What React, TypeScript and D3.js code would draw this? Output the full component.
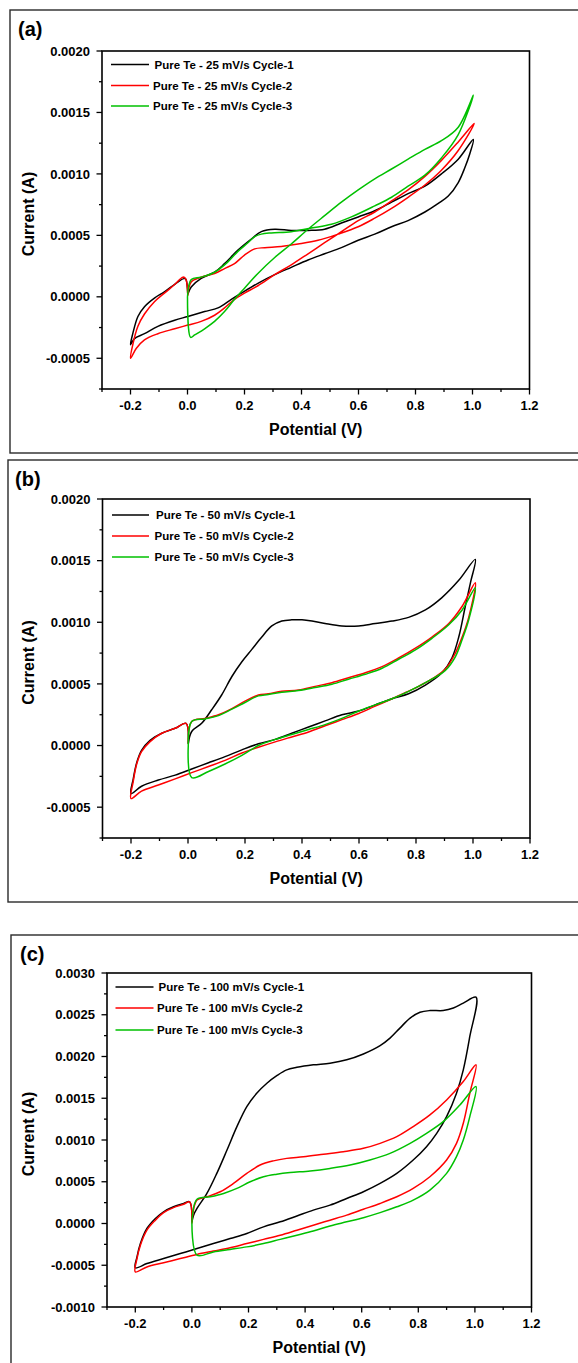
import React from "react";
import * as d3 from "d3";

type Pt = [number, number];

// Cyclic voltammograms of pure Te: [potential (V), current (A)]

// 25 mV/s
const te25Cycle1: Pt[] = [
  [0.001, 0.00002], [0.013, 0.00008], [0.048, 0.00015], [0.095, 0.0002], [0.13, 0.00027], [0.177, 0.00038],
  [0.224, 0.00047], [0.259, 0.00053], [0.306, 0.00055], [0.364, 0.00054], [0.423, 0.00054], [0.481, 0.00055],
  [0.54, 0.0006], [0.599, 0.00065], [0.657, 0.0007], [0.716, 0.00077], [0.774, 0.00084], [0.833, 0.0009],
  [0.891, 0.001], [0.95, 0.00112], [1.003, 0.00128],
  [0.99, 0.00116], [0.973, 0.00105], [0.95, 0.00093], [0.915, 0.00082], [0.88, 0.00076], [0.833, 0.00069],
  [0.774, 0.00062], [0.716, 0.00057], [0.657, 0.00051], [0.599, 0.00046], [0.54, 0.0004], [0.481, 0.00035],
  [0.423, 0.0003], [0.364, 0.00024], [0.306, 0.00018], [0.247, 0.00011], [0.189, 0.00003], [0.154, -0.00002],
  [0.107, -0.00009], [0.06, -0.00012], [0.001, -0.00016], [-0.045, -0.00019], [-0.104, -0.00024],
  [-0.151, -0.0003], [-0.186, -0.00034], [-0.2, -0.00039],
  [-0.192, -0.0003], [-0.174, -0.00016], [-0.151, -0.00008], [-0.116, -0.00001], [-0.081, 0.00004],
  [-0.034, 0.00012], [-0.01, 0.00015], [-0.005, 0.00014], [0.001, 0.00002],
];
const te25Cycle2: Pt[] = [
  [0.001, 0.00001], [0.013, 0.00012], [0.048, 0.00016], [0.095, 0.00019], [0.13, 0.00023], [0.165, 0.00027],
  [0.2, 0.00034], [0.236, 0.00039], [0.271, 0.0004], [0.329, 0.00041], [0.388, 0.00043], [0.458, 0.00046],
  [0.528, 0.00051], [0.599, 0.00057], [0.657, 0.00064], [0.716, 0.00072], [0.774, 0.00081], [0.833, 0.00091],
  [0.891, 0.00103], [0.95, 0.00119], [1.006, 0.00141],
  [0.95, 0.00126], [0.891, 0.00111], [0.833, 0.00098], [0.774, 0.00087], [0.716, 0.00078], [0.657, 0.00069],
  [0.599, 0.00062], [0.54, 0.00053], [0.481, 0.00044], [0.423, 0.00035], [0.364, 0.00026], [0.306, 0.00018],
  [0.247, 0.00009], [0.2, 0.00003], [0.165, -0.00002], [0.13, -0.00009], [0.095, -0.00015], [0.048, -0.0002],
  [0.001, -0.00023], [-0.045, -0.00026], [-0.104, -0.0003], [-0.151, -0.00035], [-0.18, -0.00042], [-0.2, -0.0005],
  [-0.192, -0.00039], [-0.174, -0.00024], [-0.151, -0.00014], [-0.116, -0.00004], [-0.081, 0.00003],
  [-0.045, 0.0001], [-0.016, 0.00016], [-0.007, 0.00015], [0.001, 0.00001],
];
const te25Cycle3: Pt[] = [
  [0.0, 0.0], [0.013, 0.00014], [0.048, 0.00016], [0.095, 0.0002], [0.14, 0.00028], [0.177, 0.00037],
  [0.212, 0.00044], [0.236, 0.00049], [0.259, 0.00051], [0.294, 0.00052], [0.364, 0.00053], [0.435, 0.00056],
  [0.505, 0.00059], [0.575, 0.00065], [0.657, 0.00074], [0.716, 0.00081], [0.774, 0.0009], [0.833, 0.00099],
  [0.891, 0.00113], [0.95, 0.00132], [1.003, 0.00164],
  [0.95, 0.00138], [0.891, 0.00127], [0.833, 0.0012], [0.774, 0.00112], [0.716, 0.00104], [0.657, 0.00096],
  [0.599, 0.00087], [0.54, 0.00077], [0.481, 0.00066], [0.423, 0.00055], [0.364, 0.00043], [0.306, 0.00032],
  [0.247, 0.00019], [0.2, 0.00007], [0.165, -0.00002], [0.13, -0.00012], [0.095, -0.0002], [0.06, -0.00026],
  [0.025, -0.00031], [0.011, -0.00033], [0.0, 0.0],
];

// 50 mV/s
const te50Cycle1: Pt[] = [
  [0.001, 0.000014], [0.013, 0.000114], [0.048, 0.00018], [0.083, 0.00029], [0.118, 0.00041], [0.154, 0.00056],
  [0.189, 0.00068], [0.224, 0.00078], [0.259, 0.00088], [0.294, 0.00097], [0.329, 0.00101], [0.364, 0.00102],
  [0.4, 0.00102], [0.435, 0.00101], [0.481, 0.00099], [0.54, 0.00097], [0.599, 0.00097], [0.657, 0.00099],
  [0.716, 0.00101], [0.774, 0.00104], [0.833, 0.0011], [0.891, 0.0012], [0.95, 0.00134], [1.008, 0.00151],
  [0.991, 0.00132], [0.973, 0.00113], [0.95, 0.00088], [0.926, 0.00071], [0.891, 0.00059], [0.833, 0.00049],
  [0.774, 0.00042], [0.716, 0.00038], [0.657, 0.00033], [0.599, 0.00028], [0.54, 0.00025], [0.481, 0.0002],
  [0.423, 0.00015], [0.364, 0.0001], [0.306, 0.00005], [0.247, 0.000014], [0.189, -0.000035], [0.13, -0.00009],
  [0.072, -0.00014], [0.013, -0.00019], [-0.045, -0.00024], [-0.104, -0.00028], [-0.163, -0.00033], [-0.2, -0.00039],
  [-0.192, -0.00027], [-0.18, -0.00014], [-0.163, -0.00004], [-0.134, 0.00004], [-0.092, 0.0001],
  [-0.045, 0.00014], [-0.007, 0.00018], [0.001, 0.000014],
];
const te50Cycle2: Pt[] = [
  [0.001, 0.000014], [0.013, 0.000195], [0.06, 0.00022], [0.107, 0.00025], [0.154, 0.0003], [0.2, 0.00036],
  [0.247, 0.00041], [0.282, 0.00042], [0.329, 0.00044], [0.388, 0.00045], [0.446, 0.00048], [0.505, 0.00051],
  [0.563, 0.00055], [0.622, 0.00059], [0.681, 0.00064], [0.739, 0.00071], [0.798, 0.00079], [0.856, 0.00088],
  [0.915, 0.00099], [0.962, 0.00113], [1.008, 0.00132],
  [0.985, 0.00104], [0.962, 0.00088], [0.938, 0.00075], [0.903, 0.00062], [0.856, 0.00054], [0.809, 0.00048],
  [0.763, 0.00043], [0.716, 0.00038], [0.657, 0.00032], [0.599, 0.00026], [0.54, 0.00021], [0.481, 0.00016],
  [0.423, 0.00011], [0.364, 0.00007], [0.306, 0.00003], [0.247, -0.000014], [0.189, -0.00006], [0.13, -0.00012],
  [0.072, -0.00017], [0.013, -0.00022], [-0.045, -0.00027], [-0.104, -0.00032], [-0.163, -0.00037], [-0.2, -0.00043],
  [-0.192, -0.00029], [-0.18, -0.00015], [-0.163, -0.00005], [-0.134, 0.00003], [-0.092, 0.0001],
  [-0.045, 0.00014], [-0.007, 0.00018], [0.001, 0.000014],
];
const te50Cycle3: Pt[] = [
  [0.001, 0.0], [0.013, 0.000195], [0.06, 0.000216], [0.107, 0.000243], [0.154, 0.000295], [0.2, 0.000349],
  [0.247, 0.000403], [0.282, 0.000414], [0.329, 0.000432], [0.388, 0.000446], [0.446, 0.00047], [0.505, 0.000497],
  [0.563, 0.000538], [0.622, 0.000578], [0.681, 0.000627], [0.739, 0.0007], [0.798, 0.000776], [0.856, 0.00087],
  [0.915, 0.00098], [0.962, 0.0011], [1.008, 0.00128],
  [0.985, 0.00102], [0.962, 0.00086], [0.938, 0.00072], [0.903, 0.00061], [0.833, 0.00051], [0.774, 0.00044],
  [0.716, 0.00038], [0.657, 0.00033], [0.599, 0.00028], [0.54, 0.00022], [0.481, 0.00017], [0.423, 0.00013],
  [0.364, 0.00009], [0.306, 0.00005], [0.247, 0.0], [0.189, -0.00008], [0.13, -0.00015], [0.072, -0.00021],
  [0.013, -0.00026], [0.001, 0.0],
];

// 100 mV/s
const te100Cycle1: Pt[] = [
  [0.0, 0.00002], [0.006, 0.0001], [0.018, 0.00018], [0.053, 0.00036], [0.088, 0.0006], [0.124, 0.00088],
  [0.159, 0.00116], [0.194, 0.0014], [0.229, 0.00156], [0.265, 0.00168], [0.3, 0.00177], [0.335, 0.00184],
  [0.371, 0.00187], [0.429, 0.0019], [0.488, 0.00192], [0.547, 0.00196], [0.606, 0.00203], [0.665, 0.00213],
  [0.7, 0.00222], [0.735, 0.00234], [0.771, 0.00246], [0.806, 0.00253], [0.841, 0.00255], [0.888, 0.00255],
  [0.924, 0.00258], [0.959, 0.00264], [1.004, 0.00271],
  [0.982, 0.00224], [0.959, 0.00184], [0.935, 0.00156], [0.9, 0.00128], [0.865, 0.00108], [0.829, 0.00092],
  [0.782, 0.00076], [0.724, 0.0006], [0.665, 0.00048], [0.606, 0.00038], [0.547, 0.0003], [0.488, 0.00022],
  [0.429, 0.00016], [0.371, 0.00009], [0.312, 0.00002], [0.253, -0.00004], [0.194, -0.00012], [0.135, -0.00018],
  [0.076, -0.00024], [0.018, -0.0003], [-0.041, -0.00036], [-0.1, -0.00042], [-0.159, -0.00048], [-0.2, -0.00053],
  [-0.194, -0.0004], [-0.182, -0.00024], [-0.159, -0.00006], [-0.129, 0.00006], [-0.1, 0.00014],
  [-0.065, 0.0002], [-0.029, 0.00024], [-0.008, 0.00026], [0.0, 0.00002],
];
const te100Cycle2: Pt[] = [
  [0.0, 0.0], [0.018, 0.00028], [0.053, 0.00032], [0.1, 0.00038], [0.147, 0.00048], [0.194, 0.0006],
  [0.241, 0.0007], [0.288, 0.00075], [0.335, 0.00078], [0.394, 0.0008], [0.465, 0.00083], [0.535, 0.00086],
  [0.606, 0.0009], [0.665, 0.00096], [0.724, 0.00104], [0.782, 0.00116], [0.841, 0.0013], [0.9, 0.00148],
  [0.959, 0.0017], [1.004, 0.0019],
  [0.982, 0.00156], [0.959, 0.0012], [0.935, 0.00096], [0.9, 0.00076], [0.841, 0.00056], [0.782, 0.00042],
  [0.724, 0.00032], [0.665, 0.00024], [0.606, 0.00017], [0.547, 0.0001], [0.488, 0.00004], [0.429, -0.00002],
  [0.371, -0.00008], [0.312, -0.00014], [0.253, -0.00019], [0.194, -0.00024], [0.135, -0.00029], [0.076, -0.00033],
  [0.018, -0.00037], [-0.041, -0.00042], [-0.1, -0.00047], [-0.159, -0.00052], [-0.2, -0.00058],
  [-0.194, -0.00042], [-0.182, -0.00026], [-0.159, -0.00008], [-0.129, 0.00004], [-0.1, 0.00013],
  [-0.065, 0.00019], [-0.029, 0.00023], [-0.008, 0.00026], [0.0, 0.0],
];
const te100Cycle3: Pt[] = [
  [0.0, 0.0], [0.018, 0.00029], [0.065, 0.00032], [0.112, 0.00036], [0.159, 0.00042], [0.206, 0.0005],
  [0.253, 0.00056], [0.3, 0.00059], [0.347, 0.00061], [0.418, 0.00063], [0.488, 0.00066], [0.559, 0.0007],
  [0.629, 0.00076], [0.7, 0.00084], [0.771, 0.00096], [0.829, 0.00108], [0.888, 0.00122], [0.947, 0.00142],
  [1.004, 0.00164],
  [0.982, 0.00128], [0.959, 0.001], [0.935, 0.0008], [0.9, 0.0006], [0.841, 0.0004], [0.782, 0.00028],
  [0.724, 0.0002], [0.665, 0.00013], [0.606, 0.00007], [0.547, 0.00002], [0.488, -0.00003], [0.429, -0.00009],
  [0.371, -0.00014], [0.312, -0.00019], [0.253, -0.00024], [0.194, -0.00028], [0.135, -0.00031],
  [0.076, -0.00034], [0.018, -0.00038], [0.0, 0.0],
];

const legend25 = ["Pure Te - 25 mV/s Cycle-1", "Pure Te - 25 mV/s Cycle-2", "Pure Te - 25 mV/s Cycle-3"];
const legend50 = ["Pure Te - 50 mV/s Cycle-1", "Pure Te - 50 mV/s Cycle-2", "Pure Te - 50 mV/s Cycle-3"];
const legend100 = ["Pure Te - 100 mV/s Cycle-1", "Pure Te - 100 mV/s Cycle-2", "Pure Te - 100 mV/s Cycle-3"];

const xDomain: [number, number] = [-0.3, 1.2];
const xMajorTicks = [-0.2, 0, 0.2, 0.4, 0.6, 0.8, 1.0, 1.2];
const yDomainAB: [number, number] = [-0.00075, 0.002];
const yMajorTicksAB = [-0.0005, 0, 0.0005, 0.001, 0.0015, 0.002];
const yDomainC: [number, number] = [-0.001, 0.003];
const yMajorTicksC = [-0.001, -0.0005, 0, 0.0005, 0.001, 0.0015, 0.002, 0.0025, 0.003];

const xTitle = "Potential (V)";
const yTitle = "Current (A)";
const cycleColors = ["#000000", "#ff0000", "#00c000"];

const FONT = "'Liberation Sans', Arial, Helvetica, sans-serif";

interface Layout {
  tag: string;
  tagX: number;
  tagY: number;
  frameX: number;
  frameY: number;
  frameH: number;
  l: number;
  r: number;
  t: number;
  b: number;
  legLine: [number, number];
  legText: number;
  legRows: number[];
}

interface PanelProps {
  layout: Layout;
  yDomain: [number, number];
  yTicks: number[];
  series: Pt[][];
  labels: string[];
}

function Panel({ layout, yDomain, yTicks, series, labels }: PanelProps) {
  const L = layout;
  const x = d3.scaleLinear().domain(xDomain).range([L.l, L.r]);
  const y = d3.scaleLinear().domain(yDomain).range([L.b, L.t]);
  const line = d3
    .line<Pt>()
    .x((d) => x(d[0]))
    .y((d) => y(d[1]))
    .curve(d3.curveCatmullRom.alpha(0.5));

  const xMinor = d3
    .range(0, 16)
    .map((i) => -0.3 + i * 0.1)
    .filter((v) => !xMajorTicks.some((m) => Math.abs(m - v) < 1e-6));
  const nY = Math.round((yDomain[1] - yDomain[0]) / 0.00025);
  const yMinor = d3
    .range(0, nY + 1)
    .map((i) => yDomain[0] + i * 0.00025)
    .filter((v) => !yTicks.some((m) => Math.abs(m - v) < 1e-9));

  const major = 5.5;
  const minor = 3;

  return (
    <g>
      <rect x={L.frameX} y={L.frameY} width={620} height={L.frameH} fill="none" stroke="#2a2a2a" strokeWidth={1.4} />
      <text x={L.tagX} y={L.tagY} fontFamily={FONT} fontWeight="bold" fontSize={20} fill="#000">
        {L.tag}
      </text>

      {/* curves */}
      <g fill="none" strokeWidth={1.5} strokeLinejoin="round">
        {series.map((s, i) => (
          <path key={i} d={line(s) ?? ""} stroke={cycleColors[i]} />
        ))}
      </g>

      {/* plot box */}
      <rect x={L.l} y={L.t} width={L.r - L.l} height={L.b - L.t} fill="none" stroke="#000" strokeWidth={1.6} />

      {/* x ticks */}
      <g stroke="#000" strokeWidth={1.3}>
        {xMajorTicks.map((v) => (
          <line key={"xM" + v} x1={x(v)} x2={x(v)} y1={L.b} y2={L.b + major} />
        ))}
        {xMinor.map((v, i) => (
          <line key={"xm" + i} x1={x(v)} x2={x(v)} y1={L.b} y2={L.b + minor} />
        ))}
        {yTicks.map((v) => (
          <line key={"yM" + v} x1={L.l - major} x2={L.l} y1={y(v)} y2={y(v)} />
        ))}
        {yMinor.map((v, i) => (
          <line key={"ym" + i} x1={L.l - minor} x2={L.l} y1={y(v)} y2={y(v)} />
        ))}
      </g>

      <g fontFamily={FONT} fontWeight="bold" fontSize={13} fill="#000">
        {xMajorTicks.map((v) => (
          <text key={"xl" + v} x={x(v)} y={L.b + 20.5} textAnchor="middle">
            {v.toFixed(1)}
          </text>
        ))}
        {yTicks.map((v) => (
          <text key={"yl" + v} x={L.l - 12} y={y(v) + 4.6} textAnchor="end">
            {v.toFixed(4)}
          </text>
        ))}
      </g>

      <text
        x={(L.l + L.r) / 2}
        y={L.b + 46}
        textAnchor="middle"
        fontFamily={FONT}
        fontWeight="bold"
        fontSize={16}
        fill="#000"
      >
        {xTitle}
      </text>
      <text
        transform={`translate(34,${(L.t + L.b) / 2 - 6}) rotate(-90)`}
        textAnchor="middle"
        fontFamily={FONT}
        fontWeight="bold"
        fontSize={16}
        fill="#000"
      >
        {yTitle}
      </text>

      {/* legend */}
      {labels.map((lab, i) => (
        <g key={"lg" + i}>
          <line
            x1={L.legLine[0]}
            x2={L.legLine[1]}
            y1={L.legRows[i]}
            y2={L.legRows[i]}
            stroke={cycleColors[i]}
            strokeWidth={1.5}
          />
          <text
            x={L.legText + (i === 0 ? 1.5 : 0)}
            y={L.legRows[i] + 4}
            fontFamily={FONT}
            fontWeight="bold"
            fontSize={11.5}
            fill="#000"
          >
            {lab}
          </text>
        </g>
      ))}
    </g>
  );
}

const layoutA: Layout = {
  tag: "(a)", tagX: 18, tagY: 36, frameX: 10, frameY: 10, frameH: 443,
  l: 102, r: 529.5, t: 51, b: 389, legLine: [111, 149], legText: 153, legRows: [64.5, 85.5, 106],
};
const layoutB: Layout = {
  tag: "(b)", tagX: 15, tagY: 486, frameX: 8, frameY: 460, frameH: 442,
  l: 102.5, r: 530, t: 499, b: 838, legLine: [112, 149], legText: 154.5, legRows: [515, 536, 557],
};
const layoutC: Layout = {
  tag: "(c)", tagX: 20, tagY: 961, frameX: 11, frameY: 935, frameH: 460,
  l: 107, r: 531.5, t: 973, b: 1307, legLine: [115.5, 153.5], legText: 157, legRows: [987, 1008, 1030],
};

export default function App() {
  return (
    <svg
      width={578}
      height={1363}
      viewBox="0 0 578 1363"
      style={{ position: "absolute", left: 0, top: 0, display: "block", background: "#fff" }}
    >
      <rect x={0} y={0} width={578} height={1363} fill="#fff" />
      <Panel
        layout={layoutA}
        yDomain={yDomainAB}
        yTicks={yMajorTicksAB}
        series={[te25Cycle1, te25Cycle2, te25Cycle3]}
        labels={legend25}
      />
      <Panel
        layout={layoutB}
        yDomain={yDomainAB}
        yTicks={yMajorTicksAB}
        series={[te50Cycle1, te50Cycle2, te50Cycle3]}
        labels={legend50}
      />
      <Panel
        layout={layoutC}
        yDomain={yDomainC}
        yTicks={yMajorTicksC}
        series={[te100Cycle1, te100Cycle2, te100Cycle3]}
        labels={legend100}
      />
    </svg>
  );
}
